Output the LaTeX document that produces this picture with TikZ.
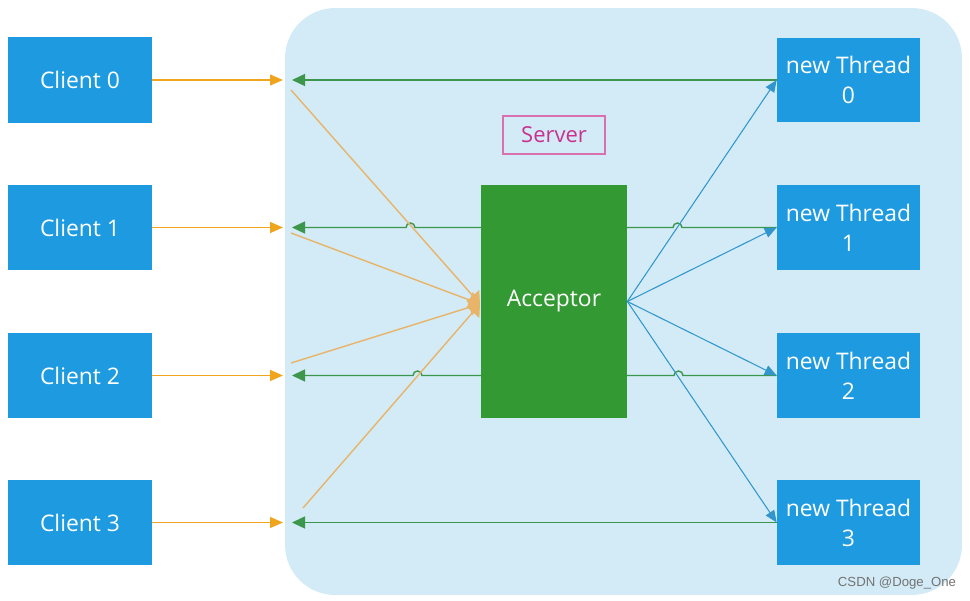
\documentclass[tikz,border=0pt]{standalone}
\usepackage{fontspec}
\setmainfont{Open Sans}
\newfontfamily\wmfont{Liberation Sans}
\usetikzlibrary{arrows.meta}
\definecolor{boxblue}{RGB}{30,155,224}
\definecolor{serverbg}{RGB}{210,235,247}
\definecolor{accgreen}{RGB}{51,153,51}
\definecolor{arrorange}{RGB}{240,165,30}
\definecolor{lineorange}{RGB}{232,180,105}
\definecolor{arrgreen}{RGB}{60,150,75}
\definecolor{arrblue}{RGB}{50,150,205}
\definecolor{srvpink}{RGB}{200,50,140}

\begin{document}
\begin{tikzpicture}[x=0.02cm,y=-0.02cm,
	client/.style={fill=boxblue,text=white,inner sep=0pt,minimum width=2.88cm,minimum height=1.72cm,font=\fontsize{13}{17}\selectfont},
	thread/.style={client,align=center,minimum width=2.86cm,minimum height=1.7cm},
	oarrow/.style={arrorange,line width=0.8pt,-{Triangle[length=0.26cm,width=0.22cm]}},
	oline/.style={lineorange,line width=0.8pt,-{Triangle[length=0.22cm,width=0.34cm]}},
	garrow/.style={arrgreen,line width=0.8pt,-{Triangle[length=0.26cm,width=0.24cm]}},
	barrow/.style={arrblue,line width=0.6pt,-{Triangle[length=0.24cm,width=0.2cm]}}]

	\useasboundingbox (0,0) rectangle (970,601);

	\node[fill=serverbg,rounded corners=1cm,minimum width=13.54cm,minimum height=11.74cm] (srv) at (623.5,301.5) {};

	\node[client] (c0) at (80,80) {Client 0};
	\node[client] (c1) at (80,227.5) {Client 1};
	\node[client] (c2) at (80,375.5) {Client 2};
	\node[client] (c3) at (80,522.5) {Client 3};

	\node[thread] (t0) at (848.5,80) {new Thread\\0};
	\node[thread] (t1) at (848.5,227.5) {new Thread\\1};
	\node[thread] (t2) at (848.5,375.5) {new Thread\\2};
	\node[thread] (t3) at (848.5,522.5) {new Thread\\3};

	\node[draw=srvpink!70,text=srvpink,line width=0.9pt,minimum width=2.04cm,minimum height=0.76cm,inner sep=0pt,font=\fontsize{12.5}{14}\selectfont] (lbl) at (554,135) {Server};

	\coordinate (in0) at (283,80);
	\coordinate (in1) at (283,227.5);
	\coordinate (in2) at (283,375.5);
	\coordinate (in3) at (283,522.5);
	\coordinate (g0) at (292,80);
	\coordinate (g1) at (292,227.5);
	\coordinate (g2) at (292,375.5);
	\coordinate (g3) at (292,522.5);

	\draw[oarrow] (c0.east) -- (in0);
	\draw[oarrow] (c1.east) -- (in1);
	\draw[oarrow] (c2.east) -- (in2);
	\draw[oarrow] (c3.east) -- (in3);

	% replies, with jumps over the crossing lines
	\draw[garrow] (t0.west) -- (g0);
	\draw[garrow] (t1.west) -- (682,227.5) arc[start angle=0,end angle=180,radius=0.09cm]
		-- (415,227.5) arc[start angle=0,end angle=180,radius=0.09cm] -- (g1);
	\draw[garrow] (t2.west) -- (683,375.5) arc[start angle=0,end angle=180,radius=0.09cm]
		-- (422,375.5) arc[start angle=0,end angle=180,radius=0.09cm] -- (g2);
	\draw[garrow] (t3.west) -- (g3);

	\node[fill=accgreen,text=white,inner sep=0pt,minimum width=2.92cm,minimum height=4.66cm,font=\fontsize{13}{15}\selectfont] (acc) at (554,301.5) {Acceptor};

	\coordinate (hub) at (480,304);
	\coordinate (o0) at (291,90);
	\coordinate (o1) at (291,233);
	\coordinate (o2) at (291,363);
	\coordinate (o3) at (303,508);

	\draw[oline] (o0) -- (hub);
	\draw[oline] (o1) -- (hub);
	\draw[oline] (o2) -- (hub);
	\draw[oline] (o3) -- (hub);

	\draw[barrow] (acc.east) -- (t0.west);
	\draw[barrow] (acc.east) -- (t1.west);
	\draw[barrow] (acc.east) -- (t2.west);
	\draw[barrow] (acc.east) -- (t3.west);

	\node[text=black!55,font=\wmfont\fontsize{7.5}{9}\selectfont] (wm) at (897,583) {CSDN @Doge\_One};

\end{tikzpicture}
\end{document}
